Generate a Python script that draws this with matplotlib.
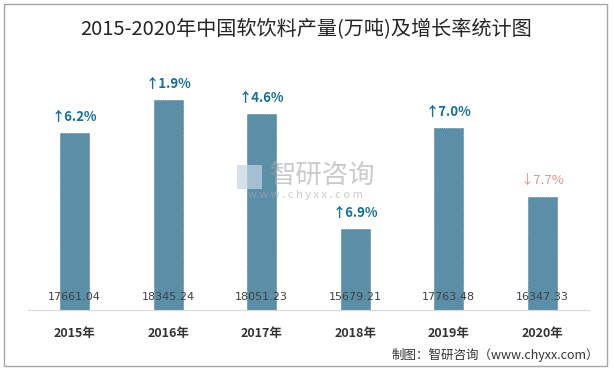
import matplotlib
matplotlib.use("Agg")
import matplotlib.pyplot as plt
from matplotlib.patches import Rectangle

plt.rcParams['font.family'] = ['Noto Sans CJK SC', 'DejaVu Sans']

# data
years = ["2015年", "2016年", "2017年", "2018年", "2019年", "2020年"]
output = [17661.04, 18345.24, 18051.23, 15679.21, 17763.48, 16347.33]
growth = [6.2, 1.9, 4.6, 6.9, 7.0, -7.7]

BAR_COLOR = "#5b8fa8"
UP_COLOR = "#136e9c"
DOWN_COLOR = "#f2907f"

fig = plt.figure(figsize=(6.13, 3.70), dpi=100)
ax = fig.add_axes([0.0457, 0.162, 0.915, 0.784])

xs = range(len(years))
ax.bar(xs, output, width=0.31, bottom=0, color=BAR_COLOR,
       edgecolor="#4a7d96", linewidth=0.5, linestyle=(0, (2, 1)), zorder=2)
ax.set_ylim(14000, 20000)
ax.set_xlim(-0.5, len(years) - 0.5)

# value labels at the bottom of each bar
for x, v in zip(xs, output):
    ax.text(x, 14000 + 13 * 20.67, "%.2f" % v, ha="center", va="center",
            fontsize=8, color="#404040", family=["DejaVu Sans"], zorder=3)

# growth labels above bars
for x, v, g in zip(xs, output, growth):
    if g >= 0:
        s, c, w = "↑%.1f%%" % g, UP_COLOR, "bold"
    else:
        s, c, w = "↓%.1f%%" % abs(g), DOWN_COLOR, "normal"
    ax.text(x, v + 330, s, ha="center", va="center", fontsize=9.5,
            color=c, fontweight=w, zorder=3)

ax.set_xticks(list(xs))
ax.set_xticklabels(years, fontsize=9, fontweight="bold", color="#333333")
ax.tick_params(axis="x", length=0, pad=12)
ax.set_yticks([])
for side in ["top", "right", "left"]:
    ax.spines[side].set_visible(False)
ax.spines["bottom"].set_color("#d9d9d9")

# watermark
fig.text(0.527, 0.525, "智研咨询", ha="center", va="center", fontsize=19,
         color="#a8a8a8", alpha=0.6)
fig.text(0.499, 0.472, "w w w . c h y x x . c o m", ha="center", va="center",
         fontsize=8, color="#a8a8a8", alpha=0.6)
fig.patches.append(Rectangle((0.387, 0.49), 0.04, 0.065,
                             transform=fig.transFigure, facecolor="#c5d3e3",
                             edgecolor="none", alpha=0.7))

fig.text(0.5, 0.922, "2015-2020年中国软饮料产量(万吨)及增长率统计图",
         ha="center", va="center", fontsize=14.5, color="#262626")
fig.text(0.977, 0.04, "制图：智研咨询（www.chyxx.com）", ha="right",
         va="center", fontsize=9, color="#333333")

fig.patches.append(Rectangle((0.006, 0.01), 0.985, 0.978,
                             transform=fig.transFigure, fill=False,
                             edgecolor="#a6a6a6", linewidth=1))

fig.savefig("out.png", dpi=100)
